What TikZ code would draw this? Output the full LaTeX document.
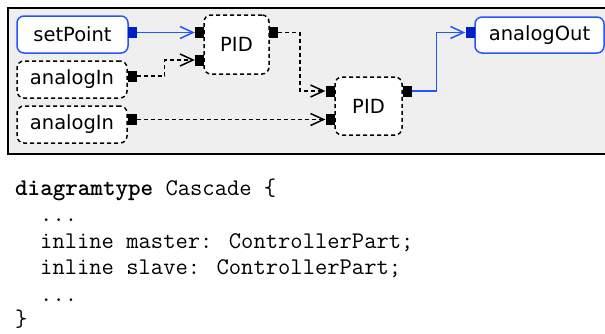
\documentclass[tikz,border=0pt]{standalone}
\usepackage{fontspec}
\newfontfamily\diagsans{DejaVu Sans}
\usetikzlibrary{arrows.meta}
\definecolor{frmgray}{RGB}{239,239,239}
\definecolor{linkblue}{RGB}{38,84,255}
\definecolor{portblue}{RGB}{0,32,196}
\tikzset{
  part/.style={rectangle, draw=black, fill=white, dash pattern=on 4pt off 3pt,
    rounded corners=7pt, line width=1.5pt, inner sep=0pt,
    font=\fontsize{19.5}{22}\selectfont\diagsans},
  iopart/.style={part, solid, draw=linkblue},
  port/.style={rectangle, fill=black, minimum width=9pt, minimum height=11pt, inner sep=0pt},
  blueport/.style={port, fill=portblue},
  conn/.style={dash pattern=on 4pt off 3pt, line width=1.5pt,
    -{Straight Barb[length=13pt,width=12pt]}},
  blueconn/.style={conn, solid, color=linkblue},
  codeline/.style={anchor=base west, inner sep=0pt,
    font=\fontsize{23.9}{26.7}\selectfont\ttfamily}
}

\begin{document}
\begin{tikzpicture}[x=1pt, y=-1pt]
\useasboundingbox (0,0) rectangle (605,333);
% diagram frame
\draw[line width=1.6pt, fill=frmgray] (8,8) rectangle (620,154);
% parts
\node[iopart, minimum width=111pt, minimum height=37pt] (sp) at (72.5,34.5) {setPoint};
\node[part, minimum width=110pt, minimum height=37pt] (ain1) at (72,79.5) {analogIn};
\node[part, minimum width=110pt, minimum height=37pt] (ain2) at (72,124.5) {analogIn};
\node[part, minimum width=65pt, minimum height=59pt] (master) at (236.5,44.5) {PID};
\node[part, minimum width=67pt, minimum height=58pt] (slave) at (368.5,106) {PID};
\node[iopart, minimum width=129pt, minimum height=36pt] (aout) at (539.5,35) {analogOut};
% ports
\node[blueport] (spout) at (132.5,32.5) {};
\node[port] (ain1out) at (132,76) {};
\node[port] (ain2out) at (132,119.5) {};
\node[port] (masterin1) at (199.5,32.5) {};
\node[port] (masterin2) at (199.5,60) {};
\node[port] (masterout) at (273.5,32.5) {};
\node[port] (slavein1) at (330,91) {};
\node[port] (slavein2) at (330,119.5) {};
\node[port] (slaveout) at (407,91) {};
\node[blueport] (aoutin) at (470,32.5) {};
% connectors
\draw[blueconn] (spout.east) -- (masterin1.west);
\draw[conn] (ain1out.east) -- ++(28,0) |- (masterin2.west);
\draw[conn] (masterout.east) -- ++(22,0) |- (slavein1.west);
\draw[conn] (ain2out.east) -- (slavein2.west);
\draw[blueconn] (slaveout.east) -- ++(25,0) |- (aoutin.west);
% code
\node[codeline] (code1) at (15,195) {\textbf{diagramtype} Cascade \{};
\node[codeline] (code2) at (40,221.5) {...};
\node[codeline] (code3) at (40,248) {inline master: ControllerPart;};
\node[codeline] (code4) at (40,274.5) {inline slave: ControllerPart;};
\node[codeline] (code5) at (40,301) {...};
\node[codeline] (code6) at (15,326) {\}};
\end{tikzpicture}
\end{document}
